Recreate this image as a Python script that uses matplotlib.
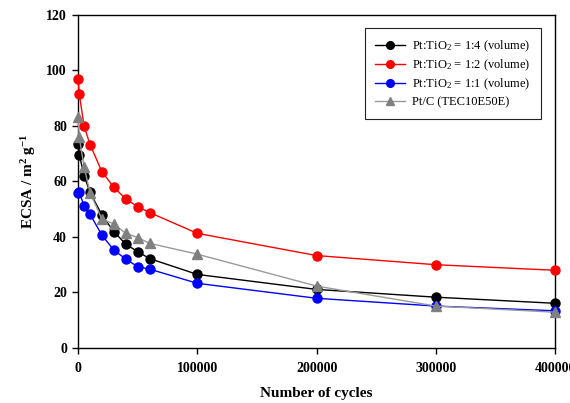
import matplotlib
matplotlib.use("Agg")
import matplotlib.pyplot as plt

cycles = [0, 1000, 5000, 10000, 20000, 30000, 40000, 50000, 60000, 100000, 200000, 300000, 400000]
black_vals = [73.5, 69.7, 62.1, 56.1, 47.9, 41.9, 37.4, 34.7, 32.2, 26.5, 21.1, 18.3, 16.1]
red_vals = [96.8, 91.5, 80.0, 73.3, 63.5, 57.9, 53.7, 50.9, 48.8, 41.3, 33.3, 30.0, 28.0]
blue_vals = [55.7, 56.1, 51.2, 48.2, 40.6, 35.3, 32.0, 29.3, 28.4, 23.3, 17.9, 15.1, 13.4]
gray_vals = [83.4, 75.9, 65.3, 56.0, 46.4, 44.7, 41.3, 39.8, 37.7, 33.8, 22.3, 15.1, 12.9]

labels = ["Pt:TiO$_2$ = 1:4 (volume)", "Pt:TiO$_2$ = 1:2 (volume)",
          "Pt:TiO$_2$ = 1:1 (volume)", "Pt/C (TEC10E50E)"]
xticks = [0, 100000, 200000, 300000, 400000]
yticks = [0, 20, 40, 60, 80, 100, 120]

plt.rcParams['font.family'] = ['Liberation Serif', 'DejaVu Serif']
plt.rcParams['mathtext.fontset'] = 'custom'
plt.rcParams['mathtext.rm'] = 'Liberation Serif'
plt.rcParams['mathtext.it'] = 'Liberation Serif'
plt.rcParams['mathtext.bf'] = 'Liberation Serif:bold'

fig = plt.figure(figsize=(5.70, 4.03), dpi=100)
ax = fig.add_axes([0.137, 0.1365, 0.837, 0.8265])

series = [(black_vals, 'black', 'black', 'o'),
          (red_vals, 'red', 'red', 'o'),
          (blue_vals, 'blue', 'blue', 'o'),
          (gray_vals, '#999999', '#808080', '^')]
for (vals, lc, mc, mk), lab in zip(series, labels):
    ax.plot(cycles, vals, color=lc, lw=1.0, marker=mk, markersize=6.5,
            markerfacecolor=mc, markeredgecolor=mc, label=lab, clip_on=False, zorder=3)

ax.set_xlim(0, 400000)
ax.set_ylim(0, 120)
ax.set_xticks(xticks)
ax.set_yticks(yticks)
ax.set_xticklabels([str(t) for t in xticks], fontweight='bold', fontsize=10)
ax.set_yticklabels([str(t) for t in yticks], fontweight='bold', fontsize=10)
ax.tick_params(axis='x', direction='out', length=4, width=1, pad=6)
ax.tick_params(axis='y', direction='out', length=4, width=1, pad=4)
for s in ax.spines.values():
    s.set_linewidth(1.0)

ax.set_xlabel("Number of cycles", fontweight='bold', fontsize=11, labelpad=9)
ax.set_ylabel(r"ECSA / m$^{\mathbf{2}}$ g$^{\mathbf{-1}}$", fontweight='bold', fontsize=11, labelpad=6)

leg = ax.legend(loc='upper right', bbox_to_anchor=(0.9706, 0.961), borderaxespad=0,
                fontsize=9, frameon=True, fancybox=False, edgecolor='#222222', framealpha=1,
                handlelength=2.4, handletextpad=0.55, borderpad=0.85, labelspacing=0.3,
                markerscale=0.85)
leg.get_frame().set_linewidth(0.8)

fig.savefig("out.png", dpi=100)
